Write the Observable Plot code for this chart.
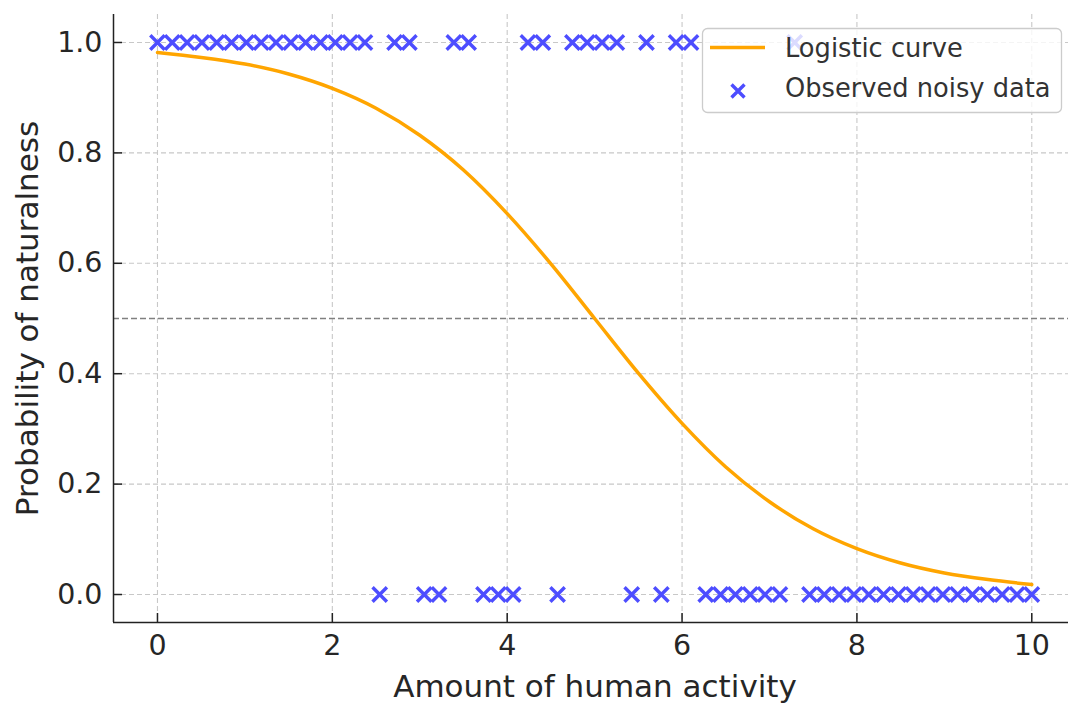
<!DOCTYPE html>
<html>
<head>
<meta charset="utf-8">
<script src="https://cdn.jsdelivr.net/npm/d3@7"></script>
<script src="https://cdn.jsdelivr.net/npm/@observablehq/plot@0.6"></script>
<style>
  html, body { margin: 0; padding: 0; background: #fff; overflow: hidden; }
  #chart svg { display: block; }
</style>
</head>
<body>
<div id="chart"></div>
<script>
// Observed noisy data (x positions and 0/1 outcome)
const obsX = [0, 0.169, 0.339, 0.508, 0.678, 0.847, 1.017, 1.186, 1.356, 1.525,
  1.695, 1.864, 2.034, 2.203, 2.373, 2.542, 2.712, 2.881, 3.051, 3.220,
  3.390, 3.559, 3.729, 3.898, 4.068, 4.237, 4.407, 4.576, 4.746, 4.915,
  5.085, 5.254, 5.424, 5.593, 5.763, 5.932, 6.102, 6.271, 6.441, 6.610,
  6.780, 6.949, 7.119, 7.288, 7.458, 7.627, 7.797, 7.966, 8.136, 8.305,
  8.475, 8.644, 8.814, 8.983, 9.153, 9.322, 9.492, 9.661, 9.831, 10];
const obsY = [1, 1, 1, 1, 1, 1, 1, 1, 1, 1,
  1, 1, 1, 1, 1, 0, 1, 1, 0, 0,
  1, 1, 0, 0, 0, 1, 1, 0, 1, 1,
  1, 1, 0, 1, 0, 1, 1, 0, 0, 0,
  0, 0, 0, 1, 0, 0, 0, 0, 0, 0,
  0, 0, 0, 0, 0, 0, 0, 0, 0, 0];

// Logistic curve values
const curveX = [0, 0.5, 1, 1.5, 2, 2.5, 3, 3.5, 4, 4.5, 5, 5.5, 6, 6.5, 7, 7.5, 8, 8.5, 9, 9.5, 10];
const curveY = [0.982, 0.973, 0.961, 0.943, 0.917, 0.881, 0.832, 0.769, 0.690, 0.599, 0.500,
  0.401, 0.310, 0.231, 0.168, 0.119, 0.083, 0.057, 0.039, 0.027, 0.018];

const xTicks = [0, 2, 4, 6, 8, 10];
const yTicks = [0, 0.2, 0.4, 0.6, 0.8, 1.0];
const threshold = [0.5];

const labels = {
  x: "Amount of human activity",
  y: "Probability of naturalness",
  line: "Logistic curve",
  dots: "Observed noisy data"
};

const obs = obsX.map((x, i) => ({x, y: obsY[i]}));
const curve = curveX.map((x, i) => ({x, y: curveY[i]}));

const xDomain = [-0.503, 10.42];
const yDomain = [-0.0507, 1.0507];
const textColor = "#262626";
const dotColor = "#4d4dff";

const chart = Plot.plot({
  width: 1068,
  height: 704,
  marginLeft: 113,
  marginRight: 0,
  marginTop: 14,
  marginBottom: 82,
  x: {domain: xDomain},
  y: {domain: yDomain},
  style: {fontFamily: "DejaVu Sans", background: "#fff", color: textColor},
  marks: [
    Plot.gridX(xTicks, {stroke: "#c8c8c8", strokeOpacity: 1, strokeWidth: 1.1, strokeDasharray: "5,3"}),
    Plot.gridY(yTicks, {stroke: "#c8c8c8", strokeOpacity: 1, strokeWidth: 1.1, strokeDasharray: "5,3"}),
    Plot.ruleY(threshold, {stroke: "#808080", strokeWidth: 1.4, strokeDasharray: "6,3"}),
    Plot.line(curve, {x: "x", y: "y", stroke: "#ffa500", strokeWidth: 3.5, curve: "monotone-x"}),
    Plot.dot(obs, {x: "x", y: "y", symbol: "times", r: 6.6, stroke: dotColor, strokeWidth: 3.4}),
    Plot.ruleX([xDomain[0]], {stroke: "#222", strokeWidth: 1.5}),
    Plot.ruleY([yDomain[0]], {stroke: "#222", strokeWidth: 1.5}),
    Plot.axisX(xTicks, {tickSize: -9, tickPadding: 21, strokeWidth: 1.5, stroke: "#222", fontSize: 28.5, fill: textColor, label: null, tickFormat: d => String(d)}),
    Plot.axisY(yTicks, {tickSize: -9, tickPadding: 20, strokeWidth: 1.5, stroke: "#222", fontSize: 28.5, fill: textColor, label: null, tickFormat: d => d.toFixed(1)}),
    Plot.text([labels.x], {text: d => d, frameAnchor: "bottom", textAnchor: "middle", dx: 4, dy: 74, fontSize: 31, fill: textColor}),
    Plot.text([labels.y], {text: d => d, frameAnchor: "left", textAnchor: "middle", lineAnchor: "middle", rotate: -90, dx: -85, fontSize: 31, fill: textColor})
  ]
});

document.getElementById("chart").appendChild(chart);

// Legend inside the plot (upper right)
const svg = d3.select(chart);
const lg = svg.append("g").attr("font-family", "DejaVu Sans").attr("font-size", 25.7).attr("text-anchor", "start");
lg.append("rect").attr("x", 702.5).attr("y", 28.5).attr("width", 359).attr("height", 84)
  .attr("rx", 5).attr("fill", "#fff").attr("fill-opacity", 0.8).attr("stroke", "#cccccc").attr("stroke-width", 1.3);
lg.append("line").attr("x1", 710).attr("x2", 765).attr("y1", 47.5).attr("y2", 47.5)
  .attr("stroke", "#ffa500").attr("stroke-width", 3.5);
lg.append("text").attr("x", 785).attr("y", 48).attr("dy", "0.35em").attr("text-anchor", "start").attr("fill", "#333").text(labels.line);
lg.append("path").attr("transform", "translate(738,91)").attr("d", "M-6.5,-6.5L6.5,6.5M-6.5,6.5L6.5,-6.5")
  .attr("stroke", dotColor).attr("stroke-width", 3.4).attr("fill", "none");
lg.append("text").attr("x", 785).attr("y", 88).attr("dy", "0.35em").attr("text-anchor", "start").attr("fill", "#333").text(labels.dots);
</script>
</body>
</html>
